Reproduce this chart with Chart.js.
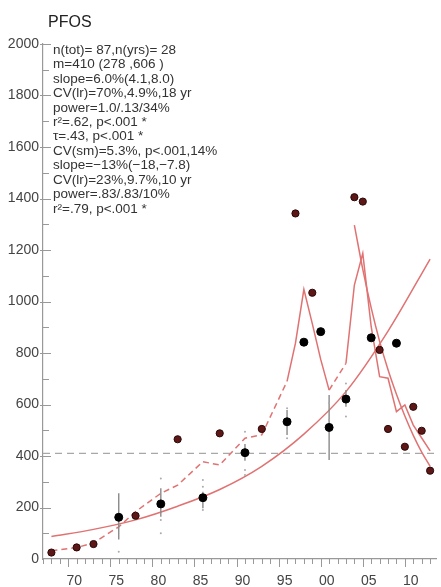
<!DOCTYPE html>
<html>
<head>
<meta charset="utf-8">
<title>PFOS</title>
<script src="https://cdn.jsdelivr.net/npm/chart.js@4.4.0/dist/chart.umd.min.js"></script>
<style>
    html, body { margin: 0; padding: 0; background: #fff; }
    #chart { display: block; }
</style>
</head>
<body>
<canvas id="chart" width="441" height="587"></canvas>
<script>
// Sampled years and annual values (ng/g)
const years = [1968, 1971, 1973, 1976, 1978, 1981, 1983, 1986, 1988, 1991, 1993, 1996, 1997, 1998,
               1999, 2000, 2001, 2003, 2004, 2005, 2006, 2007, 2008, 2009, 2010, 2011, 2012, 2013];
const values = [25, 45, 58, 162, 168, 214, 465, 238, 488, 413, 505, 533, 1342, 842,
                1034, 883, 511, 621, 1405, 1388, 859, 812, 505, 838, 436, 591, 498, 343];
// 'i' = individual samples (black), 'p' = pooled sample (dark red)
const sampleKind = ['p', 'p', 'p', 'i', 'p', 'i', 'p', 'i', 'p', 'i', 'p', 'i', 'p', 'i',
                    'p', 'i', 'i', 'i', 'p', 'p', 'i', 'p', 'p', 'i', 'p', 'p', 'p', 'p'];

// Smoothed line, one value per sampled year
const smoothValues = [32, 44, 63, 125, 184, 255, 287, 378, 365, 469, 482, 690, 838, 1047,
                      914, 775, 656, 760, 1064, 1187, 902, 708, 702, 572, 598, 520, 470, 420];

// Log-linear trend, whole period
const trendYears = [1968, 1973, 1978, 1983, 1988, 1993, 1998, 2003, 2008, 2013];
const trendValues = [87, 115, 152, 205, 270, 360, 485, 650, 885, 1165];

// Log-linear trend, last ten years
const recentYears = [2004, 2005, 2006, 2007, 2008, 2009, 2010, 2011, 2012, 2013];
const recentValues = [1297, 1125, 975, 845, 735, 640, 555, 480, 415, 360];

// Error bars (individual sample years)
const barYears = [1976, 1981, 1986, 1991, 1996, 2001, 2003];
const barLow = [76, 164, 197, 382, 482, 384, 591];
const barHigh = [255, 275, 261, 447, 579, 637, 656];

// Individual sample values drawn as small dots
const dotYears = [1976, 1981, 1981, 1981, 1986, 1986, 1986, 1991, 1991, 1991, 1996, 1996, 2001, 2001, 2003, 2003];
const dotValues = [28, 313, 151, 100, 307, 281, 190, 494, 346, 326, 585, 469, 606, 540, 682, 553];

const meanValue = 410;
const xMin = 1967;
const xMax = 2013.7;

const xTickYears = [1970, 1975, 1980, 1985, 1990, 1995, 2000, 2005, 2010];
const yTickValues = [0, 200, 400, 600, 800, 1000, 1200, 1400, 1600, 1800, 2000];

const statLines = [
    'n(tot)= 87,n(yrs)= 28',
    'm=410 (278 ,606 )',
    'slope=6.0%(4.1,8.0)',
    'CV(lr)=70%,4.9%,18 yr',
    'power=1.0/.13/34%',
    'r\u00b2=.62, p<.001 *',
    '\u03c4=.43, p<.001 *',
    'CV(sm)=5.3%, p<.001,14%',
    'slope=\u221213%(\u221218,\u22127.8)',
    'CV(lr)=23%,9.7%,10 yr',
    'power=.83/.83/10%',
    'r\u00b2=.79, p<.001 *'
];

const LINE_RED = '#e07272';
const FONT = '"Liberation Sans", Arial, Helvetica, sans-serif';

function pointsOf(kind) {
    return years
        .map((yr, i) => ({ x: yr, y: values[i], k: sampleKind[i] }))
        .filter(p => p.k === kind)
        .map(p => ({ x: p.x, y: p.y }));
}

function errorBarData() {
    const data = [];
    barYears.forEach((yr, i) => {
        data.push({ x: yr, y: barLow[i] });
        data.push({ x: yr, y: barHigh[i] });
        data.push({ x: yr, y: null });
    });
    return data;
}

// Tick marks, title and statistics text
const decorPlugin = {
    id: 'decor',
    afterDraw(chart) {
        const ctx = chart.ctx;
        const xs = chart.scales.x;
        const ys = chart.scales.y;
        const area = chart.chartArea;

        ctx.save();
        ctx.strokeStyle = '#999';
        ctx.lineWidth = 1;

        for (let yr = Math.ceil(xMin); yr <= Math.floor(xMax); yr++) {
            const px = Math.round(xs.getPixelForValue(yr)) + 0.5;
            const len = yr % 5 === 0 ? 8 : 5;
            ctx.beginPath();
            ctx.moveTo(px, area.bottom);
            ctx.lineTo(px, area.bottom + len);
            ctx.stroke();
        }

        for (let v = 100; v <= 2000; v += 100) {
            const py = Math.round(ys.getPixelForValue(v)) + 0.5;
            const major = v % 200 === 0;
            ctx.beginPath();
            ctx.moveTo(area.left - (major ? 3 : 0), py);
            ctx.lineTo(area.left + (major ? 8 : 6), py);
            ctx.stroke();
        }

        ctx.fillStyle = '#222';
        ctx.font = '16px ' + FONT;
        ctx.textBaseline = 'alphabetic';
        ctx.textAlign = 'left';
        ctx.fillText('PFOS', 48, 27);

        ctx.fillStyle = '#333';
        ctx.font = '13.5px ' + FONT;
        ctx.textBaseline = 'middle';
        statLines.forEach((line, i) => {
            ctx.fillText(line, 53, 50 + i * 14.45);
        });
        ctx.restore();
    }
};

document.addEventListener('DOMContentLoaded', function() {
    const ctx = document.getElementById('chart').getContext('2d');

    new Chart(ctx, {
        type: 'line',
        data: {
            datasets: [
                {
                    label: 'individual',
                    data: pointsOf('i'),
                    showLine: false,
                    pointRadius: 4,
                    pointBackgroundColor: '#000',
                    pointBorderColor: '#000',
                    pointBorderWidth: 1
                },
                {
                    label: 'pooled',
                    data: pointsOf('p'),
                    showLine: false,
                    pointRadius: 3.6,
                    pointBackgroundColor: '#5e1717',
                    pointBorderColor: '#2a0808',
                    pointBorderWidth: 1
                },
                {
                    label: 'samples',
                    data: dotYears.map((yr, i) => ({ x: yr, y: dotValues[i] })),
                    showLine: false,
                    pointRadius: 1,
                    pointBackgroundColor: '#aaa',
                    pointBorderWidth: 0
                },
                {
                    label: 'error bars',
                    data: errorBarData(),
                    borderColor: '#8a8a8a',
                    borderWidth: 1.4,
                    pointRadius: 0,
                    spanGaps: false
                },
                {
                    label: 'smoothed',
                    data: years.map((yr, i) => ({ x: yr, y: smoothValues[i] })),
                    borderColor: LINE_RED,
                    borderWidth: 1.5,
                    pointRadius: 0,
                    tension: 0,
                    segment: {
                        borderDash: c => (c.p1.parsed.x - c.p0.parsed.x > 1 ? [6, 4] : undefined)
                    }
                },
                {
                    label: 'trend',
                    data: trendYears.map((yr, i) => ({ x: yr, y: trendValues[i] })),
                    borderColor: LINE_RED,
                    borderWidth: 1.5,
                    pointRadius: 0,
                    cubicInterpolationMode: 'monotone'
                },
                {
                    label: 'recent trend',
                    data: recentYears.map((yr, i) => ({ x: yr, y: recentValues[i] })),
                    borderColor: LINE_RED,
                    borderWidth: 1.5,
                    pointRadius: 0,
                    cubicInterpolationMode: 'monotone'
                },
                {
                    label: 'mean',
                    data: [{ x: xMin, y: meanValue }, { x: xMax, y: meanValue }],
                    borderColor: '#a8a8a8',
                    borderWidth: 1.2,
                    borderDash: [7, 5],
                    pointRadius: 0
                }
            ]
        },
        options: {
            responsive: false,
            devicePixelRatio: 1,
            animation: false,
            events: [],
            layout: { padding: { top: 44, right: 0, left: 0, bottom: 0 } },
            plugins: {
                legend: { display: false },
                title: { display: false },
                tooltip: { enabled: false }
            },
            scales: {
                x: {
                    type: 'linear',
                    min: xMin,
                    max: xMax,
                    grid: { display: false, drawTicks: false },
                    border: { display: true, color: '#999', width: 1.2 },
                    afterBuildTicks: scale => {
                        scale.ticks = xTickYears.map(v => ({ value: v }));
                    },
                    afterFit: scale => { scale.height = 28; },
                    ticks: {
                        autoSkip: false,
                        maxRotation: 0,
                        padding: 14,
                        labelOffset: 6,
                        color: '#444',
                        font: { family: FONT, size: 14 },
                        callback: v => String(v % 100).padStart(2, '0')
                    }
                },
                y: {
                    type: 'linear',
                    min: 0,
                    max: 2000,
                    grid: { display: false, drawTicks: false },
                    border: { display: true, color: '#999', width: 1.2 },
                    afterBuildTicks: scale => {
                        scale.ticks = yTickValues.map(v => ({ value: v }));
                    },
                    afterFit: scale => { scale.width = 43; },
                    ticks: {
                        padding: 4,
                        color: '#444',
                        font: { family: FONT, size: 14 },
                        callback: v => String(v)
                    }
                }
            }
        },
        plugins: [decorPlugin]
    });
});
</script>
</body>
</html>
